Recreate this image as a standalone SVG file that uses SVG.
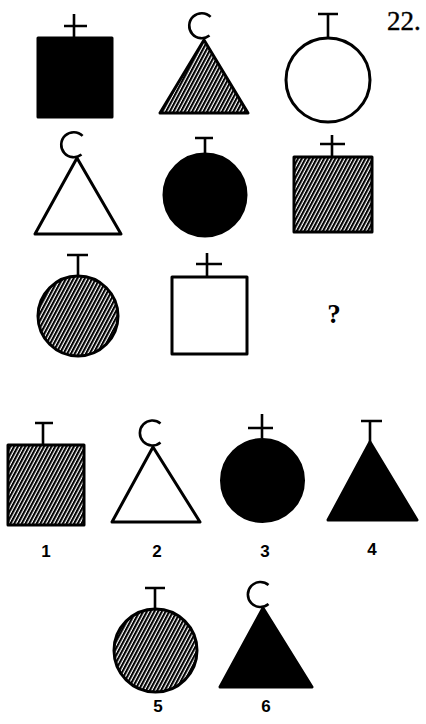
<svg xmlns="http://www.w3.org/2000/svg" width="426" height="724" viewBox="0 0 426 724">
<defs>
<pattern id="hatch" width="3.3" height="12" patternUnits="userSpaceOnUse" patternTransform="rotate(28)">
<rect width="2.1" height="12" fill="#000"/>
</pattern>
</defs>
<style>
.o{stroke:#000;stroke-width:3;stroke-linejoin:round}
.ln{stroke:#000;stroke-width:2.6;fill:none;stroke-linecap:butt}
.blk{fill:#000}
.wht{fill:#fff}
.hat{fill:url(#hatch)}
.lbl{font-family:"Liberation Sans",Arial,sans-serif;font-weight:bold;font-size:17px;text-anchor:middle;fill:#000}
.num{font-family:"Liberation Serif","Times New Roman",serif;font-size:27px;fill:#000;stroke:#000;stroke-width:0.4}
.q{font-family:"Liberation Serif","Times New Roman",serif;font-weight:bold;font-size:27px;text-anchor:middle;fill:#000}
</style>
<rect width="426" height="724" fill="#fff"/>

<g id="r1-square">
<rect class="o blk" x="38" y="38" width="74" height="79"/>
<path class="ln" d="M74 14V38M64 26H87"/>
</g>
<g id="r1-triangle">
<path class="o hat" d="M204 40L248 113H160Z"/>
<path class="ln" d="M210.6 16.9A12.5 12.5 0 1 0 209.5 35.5"/>
</g>
<g id="r1-circle">
<circle class="o wht" cx="328" cy="80" r="42"/>
<path class="ln" d="M328 14V38M318 14H338"/>
</g>
<text class="num" x="387" y="30">22.</text>

<g id="r2-triangle">
<path class="o wht" d="M77 158L121 234H35Z"/>
<path class="ln" d="M82.6 135.9A12.5 12.5 0 1 0 81.5 154.5"/>
</g>
<g id="r2-circle">
<circle class="o blk" cx="205" cy="195" r="41"/>
<path class="ln" d="M205 138V154M195 138H213"/>
</g>
<g id="r2-square">
<rect class="o hat" x="294" y="157" width="78" height="75"/>
<path class="ln" d="M332 135V157M320 144H345"/>
</g>

<g id="r3-circle">
<circle class="o hat" cx="78" cy="316" r="40"/>
<path class="ln" d="M78 255V276M67 255H88"/>
</g>
<g id="r3-square">
<rect class="o wht" x="172" y="277" width="75" height="77"/>
<path class="ln" d="M207 253V277M196 264H222"/>
</g>
<text class="q" x="334" y="323">?</text>

<g id="opt1">
<rect class="o hat" x="8" y="445" width="76" height="80"/>
<path class="ln" d="M43 423V445M35 423H53"/>
<text class="lbl" x="46" y="557">1</text>
</g>
<g id="opt2">
<path class="o wht" d="M153 447L200 522H112Z"/>
<path class="ln" d="M160.5 423.5A12.5 12.5 0 1 0 160.5 442.5"/>
<text class="lbl" x="157" y="557">2</text>
</g>
<g id="opt3">
<circle class="o blk" cx="262.5" cy="480.5" r="41"/>
<path class="ln" d="M262 414V438M248 428H273"/>
<text class="lbl" x="265" y="557">3</text>
</g>
<g id="opt4">
<path class="o blk" d="M370 442L417 520H328Z"/>
<path class="ln" d="M370 421V442M361 421H382"/>
<text class="lbl" x="372" y="555">4</text>
</g>
<g id="opt5">
<circle class="o hat" cx="155.5" cy="650.5" r="41.5"/>
<path class="ln" d="M155 588V609M145 588H165"/>
<text class="lbl" x="158" y="712">5</text>
</g>
<g id="opt6">
<path class="o blk" d="M263 608L312 687H220Z"/>
<path class="ln" d="M268.5 585A12.5 12.5 0 1 0 268.5 604"/>
<text class="lbl" x="266" y="712">6</text>
</g>
</svg>
